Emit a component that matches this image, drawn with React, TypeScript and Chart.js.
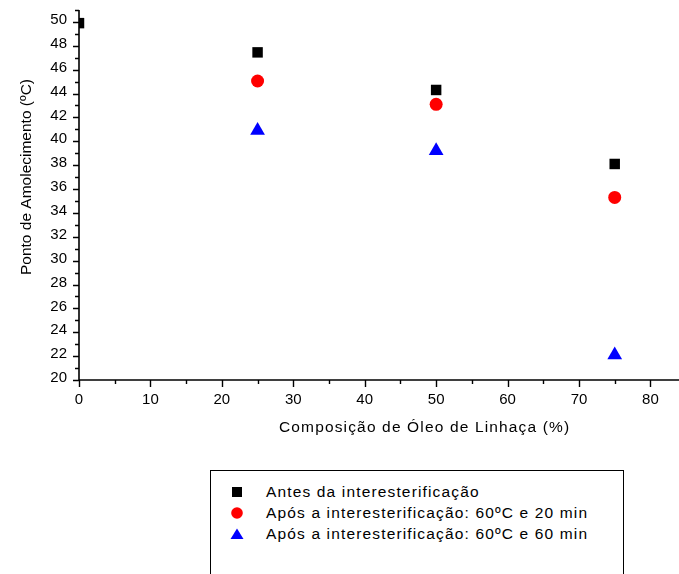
import React, { useEffect, useRef } from 'react';
import { Chart, registerables } from 'chart.js';

Chart.register(...registerables);

// ---- data ----
const composition = [0, 25, 50, 75];
const antesValues = [49.9, 47.45, 44.3, 38.1];
const apos20Values = [null, 45.05, 43.1, 35.3];
const apos60Values = [null, 40.9, 39.2, 22.1];
const seriesLabels = [
  'Antes da interesterificação',
  'Após a interesterificação: 60ºC e 20 min',
  'Após a interesterificação: 60ºC e 60 min',
];
const seriesColors = ['#000000', '#ff0000', '#0000ff'];
const seriesShapes = ['rect', 'circle', 'triangle'];
const xTitle = 'Composição de Óleo de Linhaça (%)';
const yTitle = 'Ponto de Amolecimento (ºC)';
const xRange = [0, 84];
const yRange = [20, 51];
const xMajorStep = 10;
const xMinorStep = 5;
const xLastTick = 80;
const yMajorStep = 2;
const yMinorStep = 1;

const FONT = "'Liberation Sans', Arial, Helvetica, sans-serif";

const toPoints = (vals: (number | null)[]) =>
  composition
    .map((x, i) => ({ x, y: vals[i] }))
    .filter((p) => p.y !== null) as { x: number; y: number }[];

const zeroPad = (s: any) => {
  s.paddingLeft = 0;
  s.paddingRight = 0;
  s.paddingTop = 0;
  s.paddingBottom = 0;
};

const axesPlugin = {
  id: 'originAxes',
  afterDatasetsDraw(chart: any) {
    const { ctx, chartArea, scales } = chart;
    const xs = scales.x;
    const ys = scales.y;
    ctx.save();
    ctx.strokeStyle = '#000';
    ctx.lineWidth = 1.6;
    ctx.beginPath();
    ctx.moveTo(chartArea.left, chartArea.top);
    ctx.lineTo(chartArea.left, chartArea.bottom);
    ctx.lineTo(chartArea.right, chartArea.bottom);
    ctx.stroke();
    ctx.lineWidth = 1.4;
    ctx.beginPath();
    for (let v = yRange[0]; v <= yRange[1] + 1e-9; v += yMinorStep) {
      const py = Math.round(ys.getPixelForValue(v)) + 0.5;
      const len = Math.abs(v % yMajorStep) < 1e-9 ? 6 : 4;
      ctx.moveTo(chartArea.left - len, py);
      ctx.lineTo(chartArea.left, py);
    }
    for (let v = xRange[0]; v <= xLastTick + 1e-9; v += xMinorStep) {
      const px = Math.round(xs.getPixelForValue(v)) + 0.5;
      const len = Math.abs(v % xMajorStep) < 1e-9 ? 7 : 4;
      ctx.moveTo(px, chartArea.bottom);
      ctx.lineTo(px, chartArea.bottom + len);
    }
    ctx.stroke();
    ctx.restore();
  },
  afterDraw(chart: any) {
    const { ctx } = chart;
    ctx.save();
    ctx.fillStyle = '#000';
    ctx.font = `15.5px ${FONT}`;
    (ctx as any).letterSpacing = '1.15px';
    ctx.textAlign = 'left';
    ctx.textBaseline = 'alphabetic';
    ctx.fillText(xTitle, 279, 432);
    (ctx as any).letterSpacing = '0px';
    ctx.translate(31, 177);
    ctx.rotate(-Math.PI / 2);
    ctx.textAlign = 'center';
    ctx.fillText(yTitle, 0, 0);
    ctx.restore();
  },
};

function LegendMarker({ shape, color }: { shape: string; color: string }) {
  let el: any = null;
  if (shape === 'rect') el = <rect x={3} y={3} width={10} height={10} fill={color} />;
  else if (shape === 'circle') el = <circle cx={8} cy={8} r={5.8} fill={color} />;
  else el = <polygon points="1.5,13 14.5,13 8,2.5" fill={color} />;
  return (
    <svg width={16} height={16} viewBox="0 0 16 16" style={{ display: 'block' }}>
      {el}
    </svg>
  );
}

export default function App() {
  const canvasRef = useRef<HTMLCanvasElement | null>(null);

  useEffect(() => {
    if (!canvasRef.current) return;
    Chart.defaults.font.family = FONT;
    const valuesList = [antesValues, apos20Values, apos60Values];
    const radii = [7.4, 6.5, 8.5];
    const chart = new Chart(canvasRef.current, {
      type: 'scatter',
      data: {
        datasets: valuesList.map((vals, i) => ({
          label: seriesLabels[i],
          data: toPoints(vals),
          pointStyle: seriesShapes[i] as any,
          pointRadius: radii[i],
          pointHoverRadius: radii[i],
          backgroundColor: seriesColors[i],
          borderColor: seriesColors[i],
          pointBorderWidth: 0,
          showLine: false,
          clip: 0,
        })),
      },
      options: {
        responsive: false,
        animation: false,
        events: [],
        layout: { autoPadding: false, padding: { top: 10, left: 0, right: 0, bottom: 0 } },
        plugins: {
          legend: { display: false },
          tooltip: { enabled: false },
          title: { display: false },
        },
        scales: {
          x: {
            type: 'linear',
            min: xRange[0],
            max: xRange[1],
            grid: { display: false, drawTicks: true, tickLength: 11 },
            border: { display: false },
            afterBuildTicks: (s: any) => {
              s.ticks.push({ value: xRange[1] });
            },
            ticks: {
              stepSize: xMajorStep,
              includeBounds: false,
              padding: 0,
              maxRotation: 0,
              autoSkip: false,
              color: '#000',
              font: { size: 15, family: FONT },
              callback: (v: any) => (Math.abs(v % xMajorStep) < 1e-9 ? String(v) : ''),
            },
            afterFit: (s: any) => {
              s.height = 194;
              zeroPad(s);
            },
          },
          y: {
            type: 'linear',
            min: yRange[0],
            max: yRange[1],
            grid: { display: false, drawTicks: false },
            border: { display: false },
            ticks: {
              stepSize: yMajorStep,
              includeBounds: false,
              padding: 12,
              labelOffset: -2,
              autoSkip: false,
              color: '#000',
              font: { size: 15, family: FONT },
            },
            afterFit: (s: any) => {
              s.width = 79;
              zeroPad(s);
            },
          },
        },
      },
      plugins: [axesPlugin],
    });
    return () => chart.destroy();
  }, []);

  return (
    <div
      style={{
        position: 'absolute',
        left: 0,
        top: 0,
        width: 679,
        height: 574,
        overflow: 'hidden',
        background: '#fff',
      }}
    >
      <canvas ref={canvasRef} width={679} height={574} style={{ display: 'block' }} />
      <div
        style={{
          position: 'absolute',
          left: 210,
          top: 470,
          width: 414,
          height: 160,
          border: '1px solid #000',
          boxSizing: 'border-box',
          background: '#fff',
        }}
      >
        {seriesLabels.map((lab, i) => (
          <div
            key={lab}
            style={{
              position: 'absolute',
              left: 0,
              top: 10 + i * 21,
              height: 21,
              width: '100%',
            }}
          >
            <div style={{ position: 'absolute', left: 18, top: 2.5 }}>
              <LegendMarker shape={seriesShapes[i]} color={seriesColors[i]} />
            </div>
            <div
              style={{
                position: 'absolute',
                left: 55,
                top: 0,
                lineHeight: '21px',
                fontSize: '15.5px',
                fontFamily: FONT,
                letterSpacing: '1.15px',
                color: '#000',
                whiteSpace: 'nowrap',
              }}
            >
              {lab}
            </div>
          </div>
        ))}
      </div>
    </div>
  );
}
